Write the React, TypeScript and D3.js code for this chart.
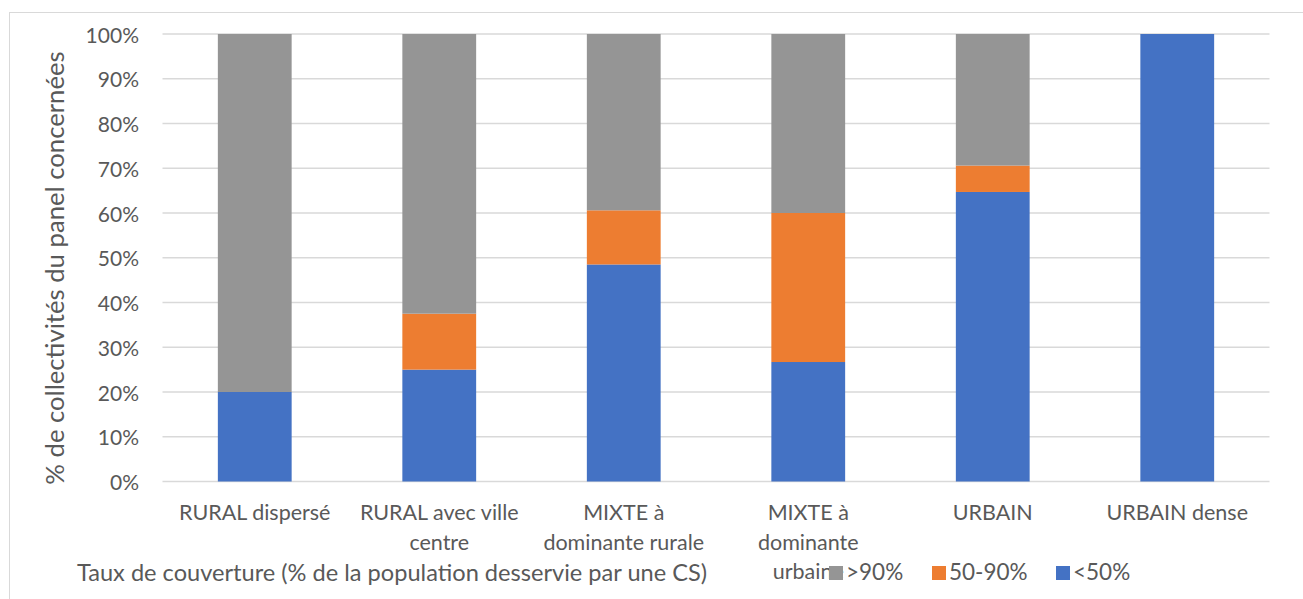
import React from "react";
import * as d3 from "d3";

const categories = [
  "RURAL dispersé",
  "RURAL avec ville centre",
  "MIXTE à dominante rurale",
  "MIXTE à dominante urbaine",
  "URBAIN",
  "URBAIN dense",
];
// wrapped lines as rendered in the source chart
const categoryLines = [
  ["RURAL dispersé"],
  ["RURAL avec ville", "centre"],
  ["MIXTE à", "dominante rurale"],
  ["MIXTE à", "dominante", "urbaine"],
  ["URBAIN"],
  ["URBAIN dense"],
];
const seriesKeys = ["lt50", "s50_90", "gt90"];
const seriesNames = ["<50%", "50-90%", ">90%"];
const lt50 = [20, 25, 48.5, 26.7, 64.7, 100];
const s50_90 = [0, 12.5, 12.1, 33.3, 5.9, 0];
const gt90 = [80, 62.5, 39.4, 40, 29.4, 0];
const yTicks = [0, 10, 20, 30, 40, 50, 60, 70, 80, 90, 100];
const legendOrder = [">90%", "50-90%", "<50%"];

const colors: Record<string, string> = {
  "<50%": "#4472C4",
  "50-90%": "#ED7D31",
  ">90%": "#959595",
};

const W = 1303;
const H = 599;
const plot = { left: 162.5, right: 1269.5, top: 34, bottom: 481.5 };
const legendX = [829, 932, 1056];
const FONT = "Lato, 'Open Sans', sans-serif";
const TXT = "#595959";

export default function App() {
  const rows = categories.map((c, i) => ({
    cat: c,
    lt50: lt50[i],
    s50_90: s50_90[i],
    gt90: gt90[i],
  }));
  const stacked = d3.stack<any>().keys(seriesKeys)(rows);
  const x = d3
    .scaleBand<string>()
    .domain(categories)
    .range([plot.left, plot.right])
    .paddingInner(0.6)
    .paddingOuter(0.3);
  const y = d3.scaleLinear().domain([0, 100]).range([plot.bottom, plot.top]);

  return (
    <svg
      width={W}
      height={H}
      style={{ position: "absolute", left: 0, top: 0, background: "#fff" }}
      fontFamily={FONT}
    >
      <rect x={0} y={0} width={W} height={H} fill="#fff" />
      <rect x={9.5} y={12.5} width={W + 50} height={H + 50} fill="none" stroke="#d9d9d9" strokeWidth={1} />
      {yTicks.map((t) => (
        <g key={t}>
          <line
            x1={plot.left}
            x2={plot.right}
            y1={y(t)}
            y2={y(t)}
            stroke="#d9d9d9"
            strokeWidth={1.3}
          />
          <text
            x={139}
            y={y(t)}
            textAnchor="end"
            dominantBaseline="central"
            fontSize={21}
            fill={TXT}
          >
            {t}%
          </text>
        </g>
      ))}
      {stacked.map((s, si) => (
        <g key={s.key} fill={colors[seriesNames[si]]}>
          {s.map((d, i) =>
            d[1] - d[0] > 0 ? (
              <rect
                key={i}
                x={x(categories[i])!}
                width={x.bandwidth()}
                y={y(d[1])}
                height={y(d[0]) - y(d[1])}
              />
            ) : null
          )}
        </g>
      ))}
      {categories.map((c, i) => (
        <text
          key={c}
          x={x(c)! + x.bandwidth() / 2}
          textAnchor="middle"
          fontSize={21.5}
          fill={TXT}
        >
          {categoryLines[i].map((l, li) => (
            <tspan key={li} x={x(c)! + x.bandwidth() / 2} y={520 + li * 29.5}>
              {l}
            </tspan>
          ))}
        </text>
      ))}
      <text
        transform={`translate(64,${268}) rotate(-90)`}
        textAnchor="middle"
        fontSize={25.7}
        fill={TXT}
      >
        % de collectivités du panel concernées
      </text>
      <text x={77} y={581} fontSize={23.6} fill={TXT}>
        Taux de couverture (% de la population desservie par une CS)
      </text>
      {legendOrder.map((n, i) => (
        <g key={n}>
          <rect x={legendX[i]} y={566} width={14} height={14} fill={colors[n]} />
          <text x={legendX[i] + 17} y={580} fontSize={22.5} fill={TXT}>
            {n}
          </text>
        </g>
      ))}
    </svg>
  );
}
